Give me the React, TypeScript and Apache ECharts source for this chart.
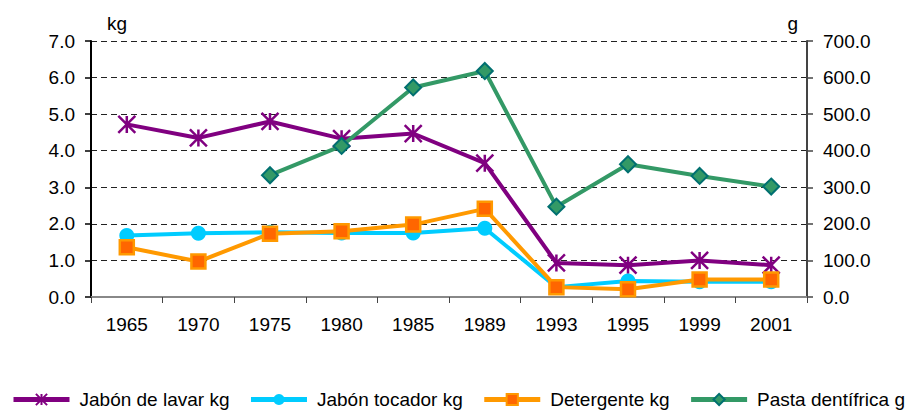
import React, { useEffect, useRef } from "react";
import * as echarts from "echarts";

const years = ["1965", "1970", "1975", "1980", "1985", "1989", "1993", "1995", "1999", "2001"];
const jabonLavar = [4.72, 4.35, 4.8, 4.33, 4.47, 3.66, 0.93, 0.87, 1.0, 0.87];
const jabonTocador = [1.68, 1.74, 1.77, 1.75, 1.75, 1.88, 0.27, 0.44, 0.42, 0.42];
const detergente = [1.36, 0.97, 1.73, 1.8, 1.98, 2.41, 0.27, 0.21, 0.48, 0.48];
const pastaDentifrica = [null, null, 333, 413, 573, 618, 247, 363, 331, 302];

const FONT = "'Liberation Sans', Arial, sans-serif";
const ASTERISK = "path://M5,0L5,10M0,0L10,10M0,10L10,0";

export default function App() {
  const ref = useRef<HTMLDivElement>(null);
  useEffect(() => {
    if (!ref.current) return;
    const chart = echarts.init(ref.current, null, { renderer: "svg" });
    chart.setOption({
      animation: false,
      textStyle: { fontFamily: FONT, color: "#000" },
      grid: { left: 91, right: 99, top: 41, bottom: 117, containLabel: false },
      legend: {
        left: 6,
        top: 388,
        width: 1400,
        padding: [2, 5, 2, 5],
        itemWidth: 56,
        itemHeight: 14,
        itemGap: 19,
        lineStyle: { width: 5 },
        textStyle: { fontFamily: FONT, fontSize: 19, color: "#000", padding: [0, 0, 0, 5] },
        data: ["Jabón de lavar kg", "Jabón tocador kg", "Detergente kg", "Pasta dentífrica g"],
      },
      xAxis: [
        {
          type: "category",
          data: years,
          boundaryGap: true,
          axisLine: { lineStyle: { color: "#000", width: 2 } },
          axisTick: { show: true, length: 6, lineStyle: { color: "#444", width: 1 } },
          axisLabel: { fontFamily: FONT, fontSize: 19, color: "#000", margin: 18 },
          splitLine: { show: false },
        },
        {
          type: "category",
          data: years,
          position: "top",
          axisLine: { show: true, lineStyle: { color: "#888", width: 2 } },
          axisTick: { show: false },
          axisLabel: { show: false },
          splitLine: { show: false },
        },
      ],
      yAxis: [
        {
          type: "value",
          min: 0,
          max: 7,
          interval: 1,
          name: "kg",
          nameLocation: "end",
          nameGap: 8,
          nameTextStyle: { fontFamily: FONT, fontSize: 19, color: "#000", align: "left", padding: [0, 0, 0, 16] },
          axisLine: { show: true, lineStyle: { color: "#000", width: 2 } },
          axisTick: { show: true, length: 6, lineStyle: { color: "#000", width: 1.5 } },
          axisLabel: { fontFamily: FONT, fontSize: 19, color: "#000", margin: 16, formatter: (v: number) => v.toFixed(1) },
          splitLine: { show: true, lineStyle: { color: "#222", width: 1, type: [6, 4] } },
        },
        {
          type: "value",
          min: 0,
          max: 700,
          interval: 100,
          name: "g",
          nameLocation: "end",
          nameGap: 8,
          nameTextStyle: { fontFamily: FONT, fontSize: 19, color: "#000", align: "right", padding: [0, 9, 0, 0] },
          axisLine: { show: true, lineStyle: { color: "#444", width: 2 } },
          axisTick: { show: true, length: 6, lineStyle: { color: "#444", width: 1.5 } },
          axisLabel: { fontFamily: FONT, fontSize: 19, color: "#000", margin: 16, formatter: (v: number) => v.toFixed(1) },
          splitLine: { show: false },
        },
      ],
      series: [
        {
          name: "Jabón de lavar kg",
          type: "line",
          data: jabonLavar,
          yAxisIndex: 0,
          symbol: ASTERISK,
          symbolSize: 17,
          lineStyle: { color: "#800080", width: 4 },
          itemStyle: { color: "#800080", borderColor: "#800080", borderWidth: 2.5 },
        },
        {
          name: "Jabón tocador kg",
          type: "line",
          data: jabonTocador,
          yAxisIndex: 0,
          symbol: "circle",
          symbolSize: 15,
          lineStyle: { color: "#00CCFF", width: 4 },
          itemStyle: { color: "#00CCFF", borderColor: "#00CCFF", borderWidth: 0 },
        },
        {
          name: "Detergente kg",
          type: "line",
          data: detergente,
          yAxisIndex: 0,
          symbol: "rect",
          symbolSize: 14,
          lineStyle: { color: "#FF9900", width: 4 },
          itemStyle: { color: "#FF6600", borderColor: "#FF9900", borderWidth: 2.5 },
        },
        {
          name: "Pasta dentífrica g",
          type: "line",
          data: pastaDentifrica,
          yAxisIndex: 1,
          symbol: "diamond",
          symbolSize: 16,
          connectNulls: false,
          lineStyle: { color: "#339966", width: 4 },
          itemStyle: { color: "#339966", borderColor: "#007070", borderWidth: 2 },
        },
      ],
    });
    return () => chart.dispose();
  }, []);
  return <div ref={ref} style={{ width: 906, height: 414, position: "absolute", left: 0, top: 0 }} />;
}
